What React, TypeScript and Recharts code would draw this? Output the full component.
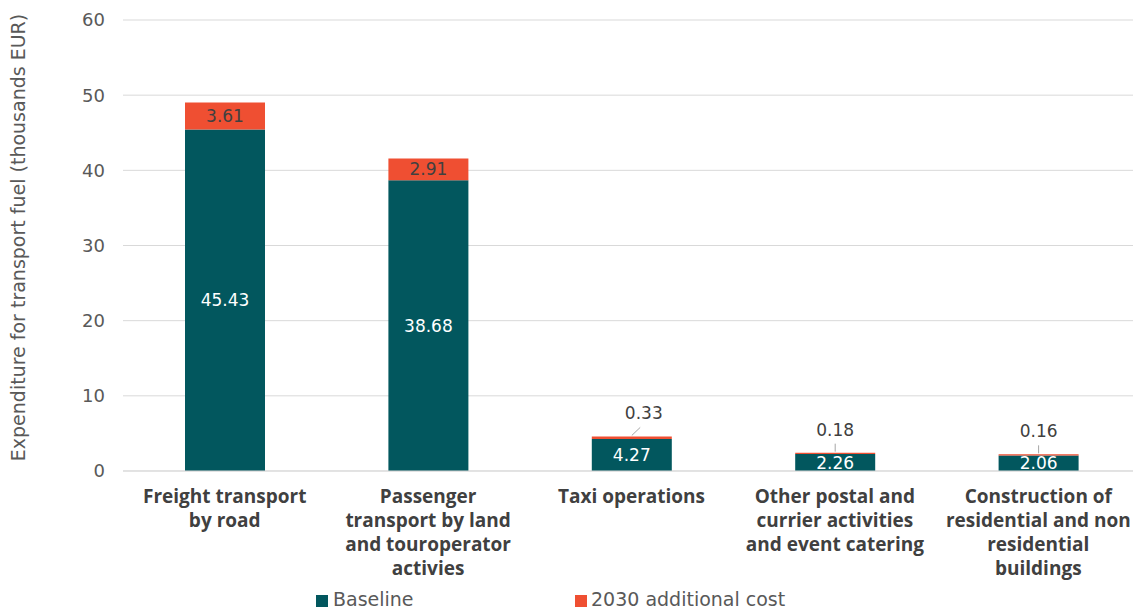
import React from 'react';
import { BarChart, Bar, XAxis, YAxis, CartesianGrid, LabelList, Legend } from 'recharts';

const categories = [
  'Freight transport\nby road',
  'Passenger\ntransport by land\nand touroperator\nactivies',
  'Taxi operations',
  'Other postal and\ncurrier activities\nand event catering',
  'Construction of\nresidential and non\nresidential\nbuildings',
];
const baseline = [45.43, 38.68, 4.27, 2.26, 2.06];
const additional = [3.61, 2.91, 0.33, 0.18, 0.16];
const yTicks = [0, 10, 20, 30, 40, 50, 60];

const TEAL = '#02575E';
const ORANGE = '#EF4F32';
const FONT = '"DejaVu Sans", sans-serif';
const BOLD_FONT = '"Open Sans", sans-serif';

const data = categories.map((name, i) => ({
  name,
  baseline: baseline[i],
  additional: additional[i],
}));

const CategoryTick = (props: any) => {
  const { x, y, payload } = props;
  const lines = String(payload.value).split('\n');
  return (
    <text x={x} y={y + 24} textAnchor="middle" fill="#404040" fontFamily={BOLD_FONT} fontSize={19} fontWeight={700}>
      {lines.map((l, i) => (
        <tspan key={i} x={x} dy={i === 0 ? 0 : 24}>{l}</tspan>
      ))}
    </text>
  );
};

const BaselineLabel = (props: any) => {
  const { x, y, width, height, value } = props;
  return (
    <text x={x + width / 2} y={y + height / 2 + 6} textAnchor="middle" fill="#fff" fontFamily={FONT} fontSize={17}>
      {Number(value).toFixed(2)}
    </text>
  );
};

// small segments get their label lifted above the bar with a leader line
const leaderOffsets = [0, 0, 12, 0, 0];

const AdditionalLabel = (props: any) => {
  const { x, y, width, height, value, index } = props;
  const cx = x + width / 2;
  if (value >= 1) {
    return (
      <text x={cx} y={y + height / 2 + 6} textAnchor="middle" fill="#404040" fontFamily={FONT} fontSize={17}>
        {Number(value).toFixed(2)}
      </text>
    );
  }
  const dx = leaderOffsets[index] || 0;
  return (
    <g>
      <line x1={cx} y1={y - 1} x2={cx + dx * 0.7} y2={y - 9} stroke="#a6a6a6" strokeWidth={1} />
      <text x={cx + dx} y={y - 17} textAnchor="middle" fill="#404040" fontFamily={FONT} fontSize={17}>
        {Number(value).toFixed(2)}
      </text>
    </g>
  );
};

const LegendContent = () => (
  <div style={{ position: 'relative', height: 30, fontFamily: FONT, fontSize: 19, color: '#595959' }}>
    <span style={{ position: 'absolute', left: 316, top: 13, width: 12, height: 12, background: TEAL }} />
    <span style={{ position: 'absolute', left: 333, top: 6 }}>Baseline</span>
    <span style={{ position: 'absolute', left: 575, top: 13, width: 12, height: 12, background: ORANGE }} />
    <span style={{ position: 'absolute', left: 591, top: 6 }}>2030 additional cost</span>
  </div>
);

export default function App() {
  return (
    <div style={{ position: 'absolute', left: 0, top: 0, width: 1133, height: 612, overflow: 'hidden', background: '#fff' }}>
      <BarChart width={1140} height={612} data={data} margin={{ top: 20, right: 0, left: 0, bottom: 0 }} barCategoryGap={0}>
        <CartesianGrid vertical={false} stroke="#d9d9d9" />
        <XAxis
          dataKey="name"
          height={111}
          tick={<CategoryTick />}
          tickLine={false}
          axisLine={{ stroke: '#d9d9d9' }}
          interval={0}
        />
        <YAxis
          width={123}
          domain={[0, 60]}
          ticks={yTicks}
          tickLine={false}
          axisLine={false}
          tickMargin={12}
          tick={{ fill: '#595959', fontSize: 18, fontFamily: FONT }}
          label={{
            value: 'Expenditure for transport fuel (thousands EUR)',
            angle: -90,
            position: 'insideLeft',
            offset: 18,
            dy: -8,
            style: { textAnchor: 'middle', fill: '#595959', fontSize: 19, fontFamily: FONT },
          }}
        />
        <Legend verticalAlign="bottom" height={30} content={<LegendContent />} />
        <Bar dataKey="baseline" stackId="a" fill={TEAL} barSize={80} isAnimationActive={false}>
          <LabelList dataKey="baseline" content={<BaselineLabel />} />
        </Bar>
        <Bar dataKey="additional" stackId="a" fill={ORANGE} barSize={80} isAnimationActive={false}>
          <LabelList dataKey="additional" content={<AdditionalLabel />} />
        </Bar>
      </BarChart>
    </div>
  );
}
